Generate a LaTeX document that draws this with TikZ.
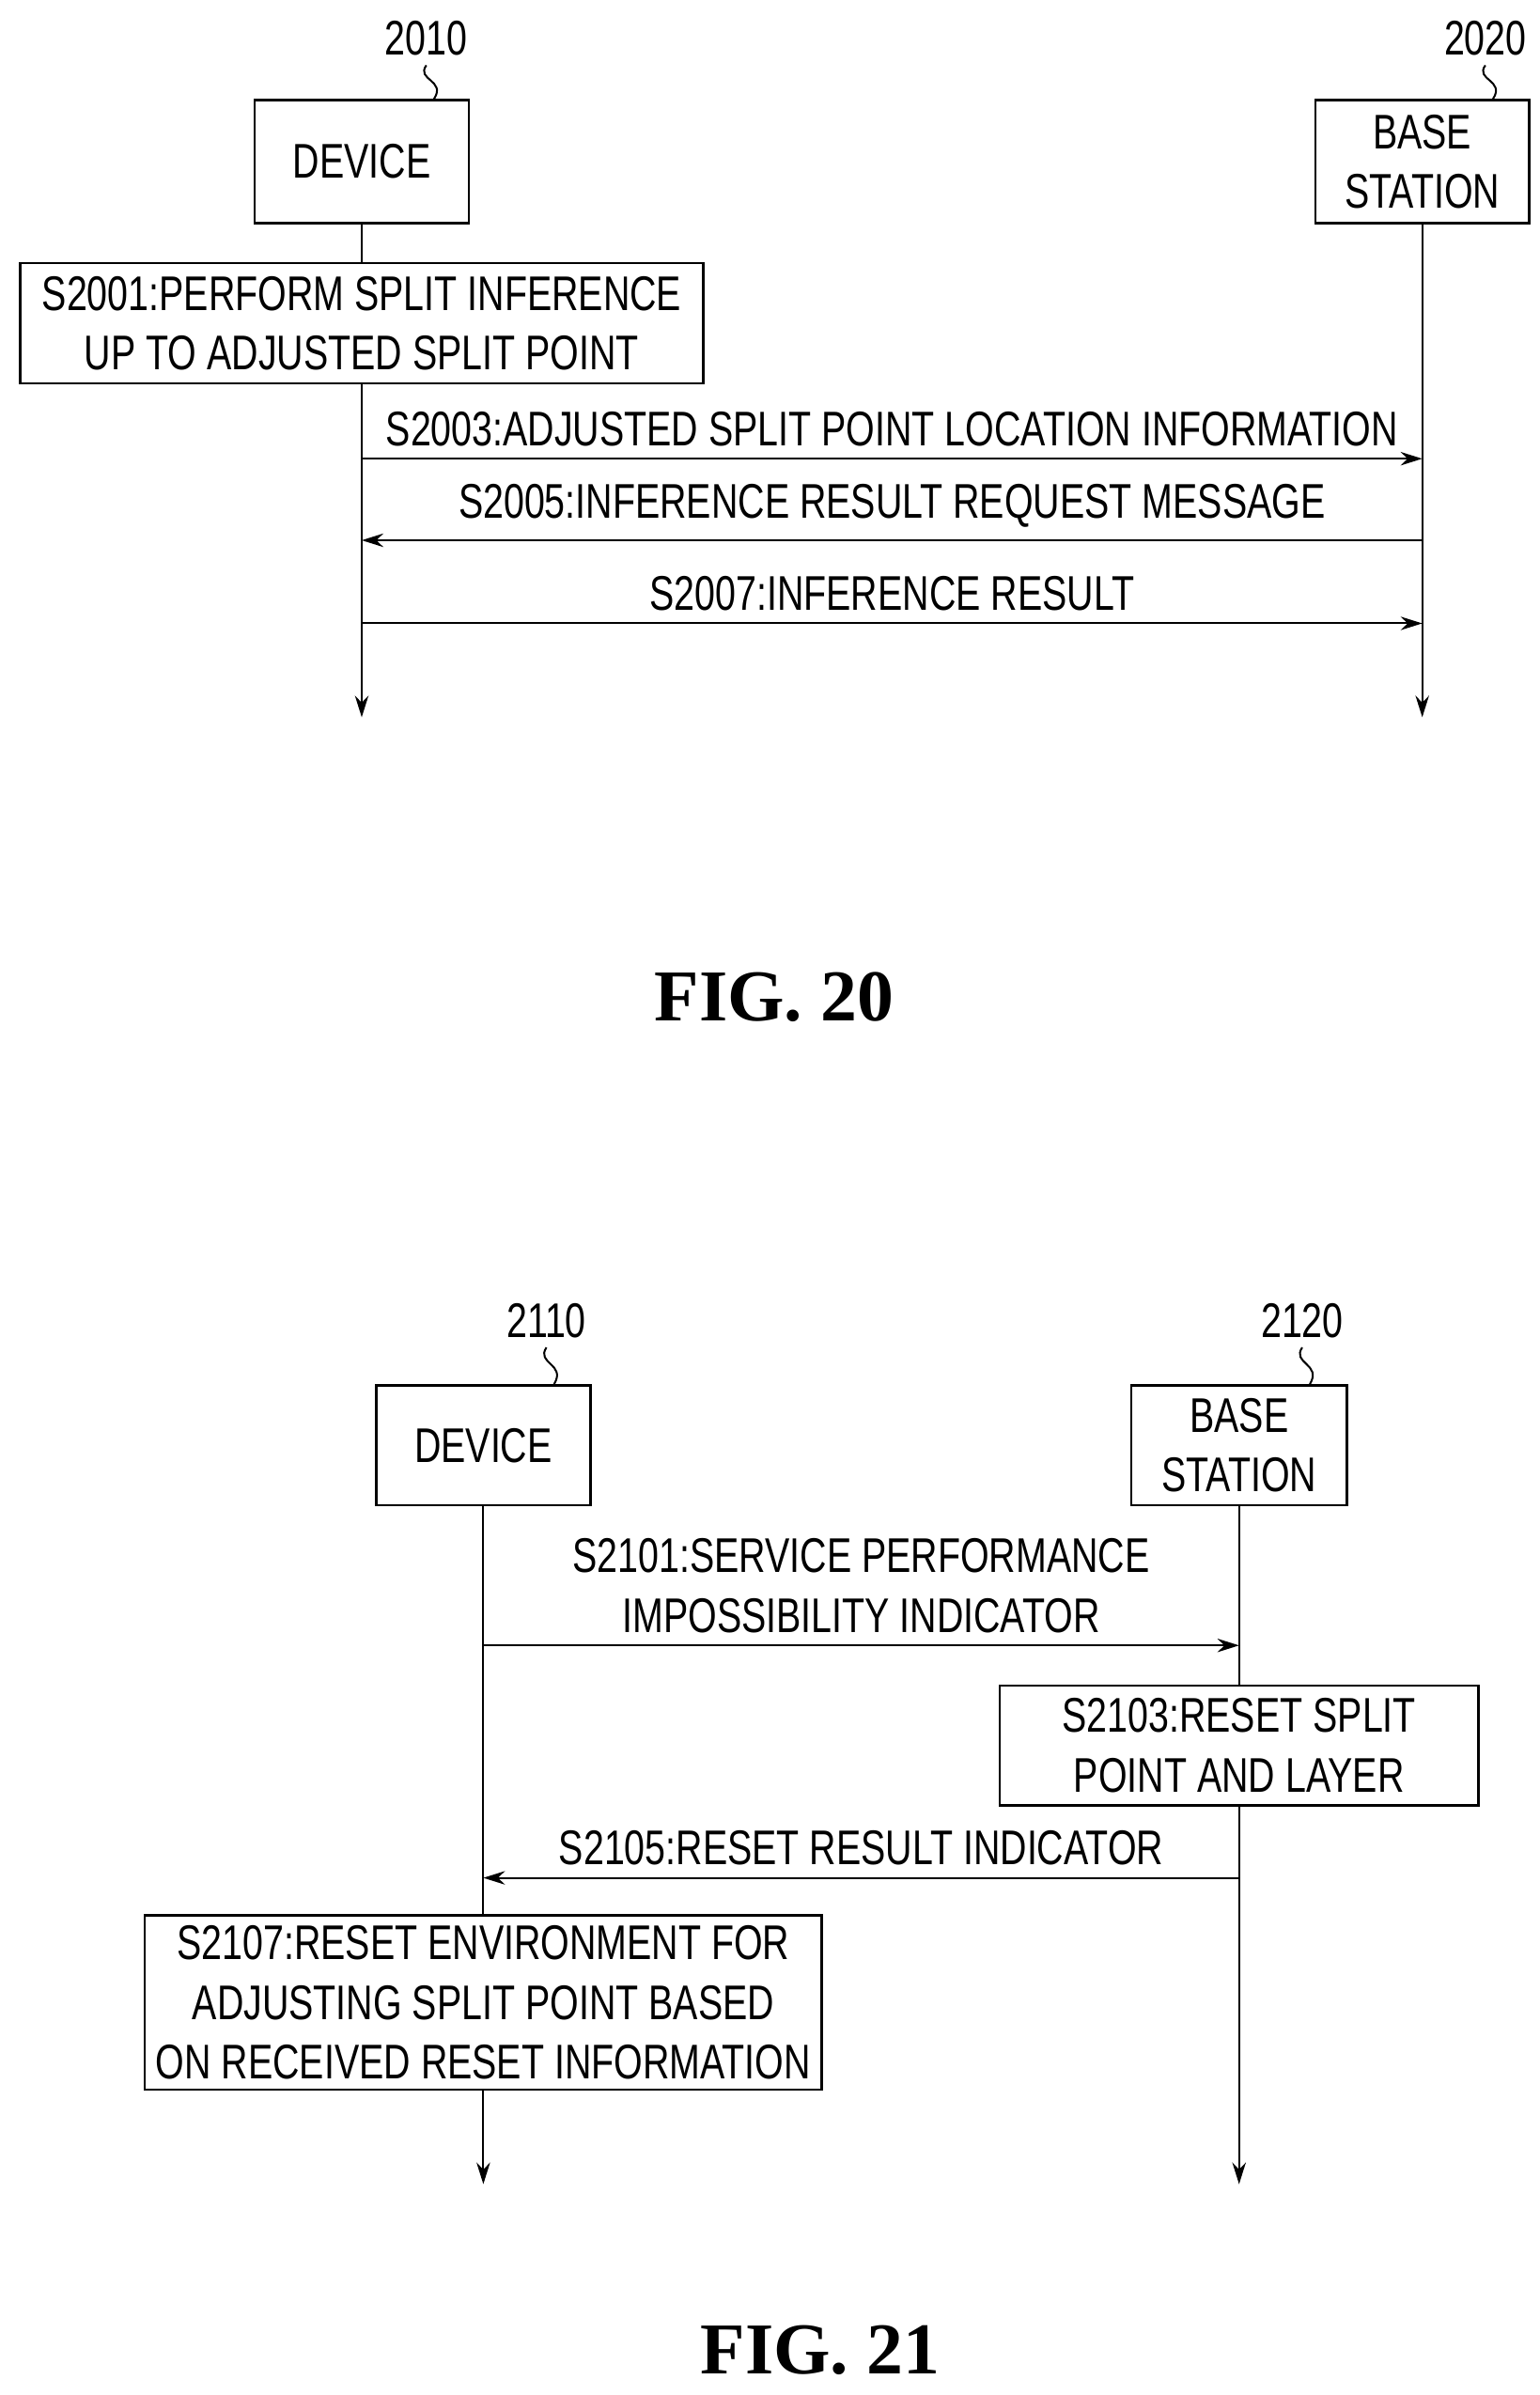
\documentclass[tikz,border=0pt]{standalone}
\usepackage{fontspec}
\setmainfont{Liberation Sans}
\newfontfamily\pfont[FakeStretch=0.76]{Liberation Sans}
\newfontfamily\figfont{Liberation Serif}
\usetikzlibrary{arrows.meta,positioning}

\begin{document}
\begin{tikzpicture}[x=0.02cm, y=-0.02cm,
    box/.style={draw, line width=0.9pt, align=center, inner sep=0pt, font=\pfont\fontsize{18}{22}\selectfont},
    lbl/.style={font=\pfont\fontsize{18}{22}\selectfont, align=center},
    msg/.style={-{Stealth[length=8pt,width=5pt]}, line width=0.7pt},
    life/.style={-{Stealth[length=8pt,width=5pt]}, line width=0.7pt},
    lead/.style={line width=0.7pt},
    fig/.style={font=\figfont\bfseries\fontsize{27}{32}\selectfont}]
    \useasboundingbox (0,0) rectangle (1000,1556);

    % FIG. 20
    \node[box, minimum width=139*0.02cm, minimum height=80*0.02cm] (dev20) at (235,105) {DEVICE};
    \node[box, minimum width=139*0.02cm, minimum height=80*0.02cm] (bs20) at (924,105) {BASE\\STATION};
    \node[lbl] (n2010) at (277,25) {2010};
    \node[lbl] (n2020) at (965,25) {2020};
    \draw[lead] (n2010.south) .. controls (270,52) and (290,52) .. (dev20.north -| 282,0);
    \draw[lead] (n2020.south) .. controls (958,52) and (978,52) .. (bs20.north -| 970,0);
    \coordinate (end20a) at (235,466);
    \coordinate (end20b) at (924,466);
    \draw[line width=0.7pt] (dev20) -- (235,171);
    \node[box, minimum width=444*0.02cm, minimum height=78*0.02cm] (s2001) at (235,210) {S2001:PERFORM SPLIT INFERENCE\\UP TO ADJUSTED SPLIT POINT};
    \draw[life] (s2001) -- (end20a);
    \draw[life] (bs20) -- (end20b);
    \coordinate (a1) at (235,298); \coordinate (b1) at (924,298);
    \coordinate (a2) at (235,351); \coordinate (b2) at (924,351);
    \coordinate (a3) at (235,405); \coordinate (b3) at (924,405);
    \draw[msg] (a1) -- node[lbl, above=1pt] {S2003:ADJUSTED SPLIT POINT LOCATION INFORMATION} (b1);
    \draw[msg] (b2) -- node[lbl, above=1pt] {S2005:INFERENCE RESULT REQUEST MESSAGE} (a2);
    \draw[msg] (a3) -- node[lbl, above=1pt] {S2007:INFERENCE RESULT} (b3);
    \node[fig] (fig20) at (503,648) {FIG. 20};

    % FIG. 21
    \node[box, minimum width=139*0.02cm, minimum height=78*0.02cm] (dev21) at (314,939) {DEVICE};
    \node[box, minimum width=140*0.02cm, minimum height=78*0.02cm] (bs21) at (805,939) {BASE\\STATION};
    \node[lbl] (n2110) at (355,858) {2110};
    \node[lbl] (n2120) at (846,858) {2120};
    \draw[lead] (n2110.south) .. controls (348,886) and (368,886) .. (dev21.north -| 360,0);
    \draw[lead] (n2120.south) .. controls (839,886) and (859,886) .. (bs21.north -| 851,0);
    \node[box, minimum width=311*0.02cm, minimum height=78*0.02cm] (s2103) at (805,1134) {S2103:RESET SPLIT\\POINT AND LAYER};
    \node[box, inner xsep=4pt, minimum width=440*0.02cm, minimum height=113*0.02cm] (s2107) at (314,1301) {S2107:RESET ENVIRONMENT FOR\\ADJUSTING SPLIT POINT BASED\\ON RECEIVED RESET INFORMATION};
    \coordinate (end21a) at (314,1419);
    \coordinate (end21b) at (805,1419);
    \draw[line width=0.7pt] (dev21) -- (s2107);
    \draw[line width=0.7pt] (bs21) -- (s2103);
    \draw[life] (s2107) -- (end21a);
    \draw[life] (s2103) -- (end21b);
    \coordinate (c1) at (314,1069); \coordinate (d1) at (805,1069);
    \coordinate (c2) at (314,1220); \coordinate (d2) at (805,1220);
    \draw[msg] (c1) -- node[lbl, above=1pt] {S2101:SERVICE PERFORMANCE\\IMPOSSIBILITY INDICATOR} (d1);
    \draw[msg] (d2) -- node[lbl, above=1pt] {S2105:RESET RESULT INDICATOR} (c2);
    \node[fig] (fig21) at (533,1527) {FIG. 21};
\end{tikzpicture}
\end{document}
